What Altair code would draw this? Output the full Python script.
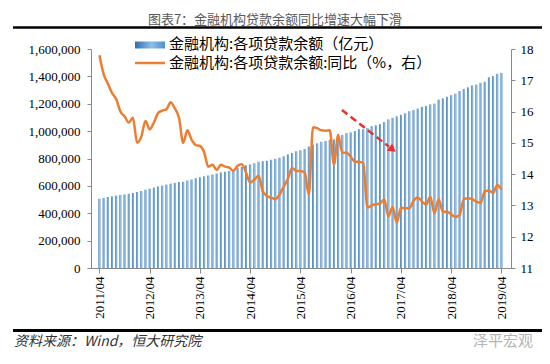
import altair as alt
import pandas as pd

# ---- data (month index 0 = 2011/04 ... 96 = 2019/04) ----
month_idx = list(range(97))

loans = [
    506000, 511500, 518900, 523800, 529300, 533900, 537400, 542000, 547900,
    555300, 562400, 572500, 579300, 587300, 596500, 601900, 609200, 616500, 621500, 627400, 629900,
    640200, 646400, 656300, 663300, 670000, 676300, 683300, 690400, 698200, 703300, 709600, 718900,
    732100, 738600, 749700, 757200, 766000, 776500, 780400, 783100, 791100, 797500, 806000, 816800,
    830500, 840800, 853600, 860800, 869800, 887600, 901700, 911100, 922700, 928300, 937400, 939500,
    964500, 971800, 985300, 990900, 1000300, 1014100, 1014600, 1024100, 1036300, 1043100, 1051000, 1066000,
    1086400, 1097600, 1108200, 1119100, 1130200, 1145700, 1154000, 1164900, 1177700, 1184300, 1195500, 1201300,
    1230400, 1239800, 1251300, 1262800, 1274300, 1292700, 1307300, 1320200, 1333600, 1340600, 1353000, 1361000,
    1393400, 1402300, 1419000, 1426000,
]

yoy = [
    17.8, 17.2, 16.9, 16.6, 16.4, 16.0, 15.85, 15.65, 15.8,
    15.0, 15.2, 15.7, 15.43, 15.65, 15.95, 16.03, 16.07, 16.3, 16.1, 15.8, 15.0,
    15.4, 15.1, 14.93, 14.9, 14.7, 14.24, 14.3, 14.13, 14.3, 14.24, 14.21, 14.1,
    14.27, 14.32, 14.05, 13.73, 13.83, 13.95, 13.45, 13.3, 13.25, 13.2, 13.35, 13.6,
    13.85, 14.2, 14.1, 14.1, 14.05, 13.35, 15.5, 15.47, 15.4, 15.39, 15.4, 14.3,
    15.25, 14.68, 14.68, 14.56, 14.4, 14.4, 14.35, 12.93, 13.0, 13.04, 13.06, 13.2,
    12.65, 12.95, 12.45, 12.93, 12.91, 12.91, 13.15, 13.25, 13.13, 13.02, 13.28, 12.75,
    13.2, 12.8, 12.8, 12.72, 12.63, 12.7, 13.2, 13.23, 13.2, 13.12, 13.08, 13.45,
    13.48, 13.4, 13.65, 13.5,
]

tick_idx = [0, 12, 24, 36, 48, 60, 72, 84, 96]
left_ticks = [0, 200000, 400000, 600000, 800000, 1000000, 1200000, 1400000, 1600000]
right_ticks = [11, 12, 13, 14, 15, 16, 17, 18]

# trend arrow (month index, right-axis value)
arrow_i = [57.9, 69.1]
arrow_v = [16.05, 14.88]
arrow_head_i = [70.0]
arrow_head_v = [14.79]

title_text = "图表7：金融机构贷款余额同比增速大幅下滑"
legend_bar = "金融机构:各项贷款余额（亿元）"
legend_line = "金融机构:各项贷款余额:同比（%，右）"
source_text = "资料来源：Wind，恒大研究院"
mark_text = "泽平宏观"

df = pd.DataFrame({"i": month_idx, "loan": loans, "yoy": yoy})
df_arrow = pd.DataFrame({"i": arrow_i, "v": arrow_v})
df_head = pd.DataFrame({"i": arrow_head_i, "v": arrow_head_v})
one = pd.DataFrame({"k": [0]})

SERIF = "Liberation Serif"
CJK = "Noto Sans CJK SC"
AX = "#898989"

x_enc = alt.X(
    "i:Q",
    scale=alt.Scale(domain=[-0.82, 97.08], nice=False, zero=False),
    axis=alt.Axis(
        values=tick_idx,
        labelExpr="(2011 + datum.value / 12) + '/04'",
        labelAngle=270,
        labelFont=SERIF, labelFontSize=13, labelColor="#000",
        domainColor=AX, tickColor=AX, tickSize=5, labelPadding=3,
        grid=False, title=None,
    ),
)

bar_grad = alt.Gradient(
    gradient="linear",
    stops=[
        alt.GradientStop(color="#2f6fb0", offset=0),
        alt.GradientStop(color="#8fbde4", offset=0.55),
        alt.GradientStop(color="#4f8fcc", offset=1),
    ],
    x1=0, x2=1, y1=0, y2=0,
)

bars = alt.Chart(df).mark_bar(size=2, color=bar_grad).encode(
    x=x_enc,
    y=alt.Y(
        "loan:Q",
        scale=alt.Scale(domain=[0, 1600000], nice=False),
        axis=alt.Axis(
            orient="left", values=left_ticks, format=",.0f",
            labelFont=SERIF, labelFontSize=13, labelColor="#000",
            domainColor=AX, tickColor=AX, tickSize=4, labelPadding=7,
            grid=False, title=None,
        ),
    ),
)

line = alt.Chart(df).mark_line(
    color="#ED7D31", strokeWidth=2.5, interpolate="monotone"
).encode(
    x=x_enc,
    y=alt.Y(
        "yoy:Q",
        scale=alt.Scale(domain=[11, 18], nice=False, zero=False),
        axis=alt.Axis(
            orient="right", values=right_ticks, format="d",
            labelFont=SERIF, labelFontSize=13, labelColor="#000",
            domainColor=AX, tickColor=AX, tickSize=4, labelPadding=5,
            grid=False, title=None,
        ),
    ),
)

arrow_line = alt.Chart(df_arrow).mark_line(
    color="#e8312f", strokeWidth=2.5, strokeDash=[7, 4]
).encode(
    x=x_enc,
    y=alt.Y("v:Q", scale=alt.Scale(domain=[11, 18], nice=False, zero=False), axis=None),
)

arrow_head = alt.Chart(df_head).mark_point(
    shape="triangle-right", filled=True, size=80, angle=37, color="#e8312f", opacity=1
).encode(
    x=x_enc,
    y=alt.Y("v:Q", scale=alt.Scale(domain=[11, 18], nice=False, zero=False), axis=None),
)

# decorations (title, rules, legend, source)
title = alt.Chart(one).mark_text(
    font=CJK, fontSize=13, color="#595959", align="center", baseline="middle"
).encode(x=alt.value(184), y=alt.value(-29.5), text=alt.value(title_text))

top_rule = alt.Chart(one).mark_rule(color="#000", strokeWidth=2.5).encode(
    x=alt.value(-78), x2=alt.value(455), y=alt.value(-21.5)
)
bottom_rule = alt.Chart(one).mark_rule(color="#000", strokeWidth=3).encode(
    x=alt.value(-78), x2=alt.value(455), y=alt.value(281.5)
)

leg_rect = alt.Chart(one).mark_rect(color=bar_grad).encode(
    x=alt.value(44), x2=alt.value(74), y=alt.value(-7.5), y2=alt.value(-0.5)
)
leg_line = alt.Chart(one).mark_rule(color="#ED7D31", strokeWidth=2.5).encode(
    x=alt.value(44), x2=alt.value(74), y=alt.value(14)
)
leg_t1 = alt.Chart(one).mark_text(
    font=CJK, fontSize=15, color="#000", align="left", baseline="middle"
).encode(x=alt.value(78), y=alt.value(-5), text=alt.value(legend_bar))
leg_t2 = alt.Chart(one).mark_text(
    font=CJK, fontSize=15, color="#000", align="left", baseline="middle"
).encode(x=alt.value(78), y=alt.value(14), text=alt.value(legend_line))

source = alt.Chart(one).mark_text(
    font=CJK, fontSize=14, fontStyle="italic", color="#333", align="left", baseline="middle"
).encode(x=alt.value(-77), y=alt.value(293), text=alt.value(source_text))

wmark = alt.Chart(one).mark_text(
    font=CJK, fontSize=15, color="#b5b5b5", align="left", baseline="middle"
).encode(x=alt.value(382), y=alt.value(292), text=alt.value(mark_text))

chart = alt.layer(
    bars, line, arrow_line, arrow_head,
    title, top_rule, bottom_rule, leg_rect, leg_line, leg_t1, leg_t2, source, wmark,
).resolve_scale(y="independent").properties(
    width=420, height=219,
    padding={"left": 83, "top": 41, "right": 31, "bottom": 88},
    autosize=alt.AutoSizeParams(type="none"),
    background="white",
).configure_view(stroke=None)

chart.save("out.html", embed_options={"renderer": "svg", "actions": False})
